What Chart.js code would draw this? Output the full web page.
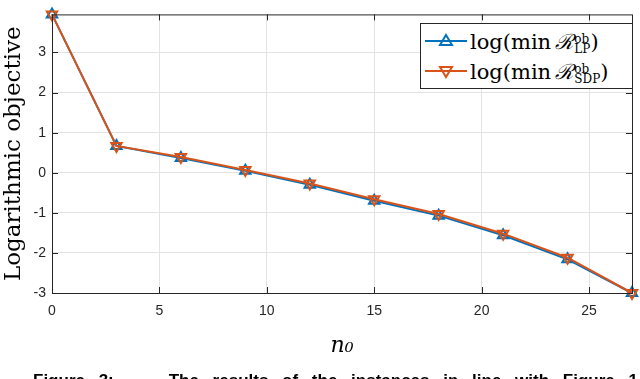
<!DOCTYPE html>
<html>
<head>
<meta charset="utf-8">
<script src="https://cdn.jsdelivr.net/npm/chart.js@4.4.0/dist/chart.umd.min.js"></script>
<style>
  html, body { margin: 0; padding: 0; background: #fff; overflow: hidden; }
  #wrap { position: relative; width: 640px; height: 379px; overflow: hidden; }
  #chart { display: block; }
  #legend {
    position: absolute; left: 420px; top: 23px; width: 213px; height: 66px;
    border: 1px solid #262626; background: #fff; box-sizing: border-box;
    font-family: "DejaVu Serif", "Liberation Serif", serif; font-size: 21px; color: #000;
  }
  .row { position: absolute; left: 3px; height: 30px; display: flex; align-items: center; white-space: nowrap; }
  .row svg { margin-right: 2px; }
  .sup-sub { display: inline-block; vertical-align: middle; line-height: 10px; font-size: 12px; text-align: left; margin-left: 1px; }
  #caption {
    position: absolute; left: 33px; top: 371px; line-height: 20px; white-space: nowrap;
    font-family: "Liberation Sans", Arial, sans-serif; font-weight: bold; font-size: 17px; color: #000;
    word-spacing: 9px;
  }
</style>
</head>
<body>
<div id="wrap">
  <canvas id="chart" width="640" height="379"></canvas>
  <div id="legend">
    <div class="row" style="top:2px">
      <svg width="44" height="20"><line x1="1" y1="10" x2="43" y2="10" stroke="#0072BD" stroke-width="2"/><polygon points="22,4 28,14 16,14" fill="none" stroke="#0072BD" stroke-width="2"/></svg>
      <span>log(min&#8201;<i>&#8475;</i><span class="sup-sub">ob<br>LP</span>)</span>
    </div>
    <div class="row" style="top:32px">
      <svg width="44" height="20"><line x1="1" y1="10" x2="43" y2="10" stroke="#D95319" stroke-width="2"/><polygon points="16,6 28,6 22,16" fill="none" stroke="#D95319" stroke-width="2"/></svg>
      <span>log(min&#8201;<i>&#8475;</i><span class="sup-sub">ob<br>SDP</span>)</span>
    </div>
  </div>
  <div id="caption">Figure 3:&nbsp;&nbsp;&nbsp; The results of the instances in line with Figure 1</div>
</div>
<script>
// data
const n0 = [0, 3, 6, 9, 12, 15, 18, 21, 24, 27];
const logLP = [3.95, 0.67, 0.37, 0.05, -0.30, -0.70, -1.07, -1.56, -2.16, -3.00];
const logSDP = [3.95, 0.67, 0.39, 0.07, -0.27, -0.66, -1.03, -1.52, -2.12, -3.00];
const xTicks = [0, 5, 10, 15, 20, 25];
const yTicks = [-3, -2, -1, 0, 1, 2, 3];

const BLUE = '#0072BD';
const ORANGE = '#D95319';
const AXIS = '#262626';

// --- MATLAB style box with inward tick marks ---
const boxPlugin = {
    id: 'box',
    afterDraw(chart) {
        const { ctx, chartArea: a, scales } = chart;
        ctx.save();
        ctx.strokeStyle = AXIS;
        ctx.lineWidth = 1;
        ctx.strokeRect(a.left + 0.5, a.top + 0.5, a.right - a.left, a.bottom - a.top);
        const len = 6;
        ctx.beginPath();
        xTicks.forEach(v => {
            const x = Math.round(scales.x.getPixelForValue(v)) + 0.5;
            ctx.moveTo(x, a.bottom); ctx.lineTo(x, a.bottom - len);
            ctx.moveTo(x, a.top); ctx.lineTo(x, a.top + len);
        });
        yTicks.forEach(v => {
            const y = Math.round(scales.y.getPixelForValue(v)) + 0.5;
            ctx.moveTo(a.left, y); ctx.lineTo(a.left + len, y);
            ctx.moveTo(a.right, y); ctx.lineTo(a.right - len, y);
        });
        ctx.stroke();
        ctx.restore();
    }
};

const ctx = document.getElementById('chart').getContext('2d');
new Chart(ctx, {
    type: 'line',
    data: {
        datasets: [
            {
                label: 'LP',
                data: n0.map((x, i) => ({ x: x, y: logLP[i] })),
                order: 2,
                borderColor: BLUE,
                borderWidth: 2,
                pointStyle: 'triangle',
                pointRadius: 6,
                pointBorderWidth: 2,
                pointBorderColor: BLUE,
                pointBackgroundColor: 'rgba(0,0,0,0)',
                tension: 0,
                clip: false
            },
            {
                label: 'SDP',
                data: n0.map((x, i) => ({ x: x, y: logSDP[i] })),
                order: 1,
                borderColor: ORANGE,
                borderWidth: 2,
                pointStyle: 'triangle',
                rotation: 180,
                pointRadius: 6,
                pointBorderWidth: 2,
                pointBorderColor: ORANGE,
                pointBackgroundColor: 'rgba(0,0,0,0)',
                tension: 0,
                clip: false
            }
        ]
    },
    options: {
        responsive: false,
        animation: false,
        layout: { padding: { top: 9, right: 8, bottom: 20, left: 0 } },
        plugins: { legend: { display: false }, tooltip: { enabled: false } },
        scales: {
            x: {
                type: 'linear',
                min: 0,
                max: 27,
                afterBuildTicks: (s) => { s.ticks = xTicks.map(v => ({ value: v })); },
                afterFit: (s) => { s.height = 66; },
                ticks: {
                    color: AXIS,
                    font: { family: 'Liberation Sans, Arial, sans-serif', size: 14 },
                    padding: 10
                },
                grid: { color: '#e3e3e3', drawTicks: false },
                border: { display: false },
                title: {
                    display: true,
                    text: 'n₀',
                    color: '#000',
                    font: { family: 'DejaVu Serif, serif', size: 22, style: 'italic' },
                    padding: { top: 2, bottom: 0 }
                }
            },
            y: {
                type: 'linear',
                min: -3,
                max: 3.95,
                afterBuildTicks: (s) => { s.ticks = yTicks.map(v => ({ value: v })); },
                afterFit: (s) => { s.width = 52; },
                ticks: {
                    color: AXIS,
                    font: { family: 'Liberation Sans, Arial, sans-serif', size: 14 },
                    padding: 6
                },
                grid: { color: '#e3e3e3', drawTicks: false },
                border: { display: false },
                title: {
                    display: true,
                    text: 'Logarithmic objective',
                    color: '#000',
                    font: { family: 'DejaVu Serif, serif', size: 23 },
                    padding: { top: 0, bottom: 0 }
                }
            }
        }
    },
    plugins: [boxPlugin]
});
</script>
</body>
</html>
